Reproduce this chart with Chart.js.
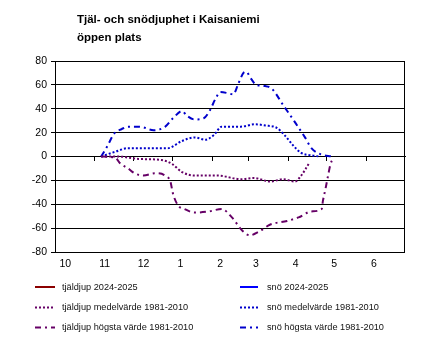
<!DOCTYPE html>
<html>
<head>
<meta charset="utf-8">
<script src="https://cdn.jsdelivr.net/npm/chart.js@4.4.1/dist/chart.umd.min.js"></script>
<style>
  html, body { margin: 0; padding: 0; background: #ffffff; }
  #wrap { width: 430px; height: 352px; }
</style>
</head>
<body>
<div id="wrap"><canvas id="c" width="430" height="352"></canvas></div>
<script>
// ---- Data (x = days since 1 October) ----
const titleLines = ["Tjäl- och snödjuphet i Kaisaniemi", "öppen plats"];
const monthLabels = ["10", "11", "12", "1", "2", "3", "4", "5", "6"];
const monthStartDays = [0, 31, 61, 92, 123, 151, 182, 212, 243];
const yTicks = [-80, -60, -40, -20, 0, 20, 40, 60, 80];

const tjalCurrentDays = [];
const tjalCurrentVals = [];
const snoCurrentDays = [];
const snoCurrentVals = [];

const tjalMedelDays = [36, 49, 65, 83, 91, 99, 109, 127, 145, 155, 168, 178, 187, 192, 198];
const tjalMedelVals = [0, 0, -2, -3, -6, -13, -16, -16, -19, -18, -21, -19, -21, -16, -6];

const snoMedelDays = [36, 47, 57, 69, 88, 99, 109, 117, 124, 130, 145, 156, 164, 173, 179, 186, 192, 200, 206];
const snoMedelVals = [0, 4, 7, 7, 7, 13, 16, 14, 18, 25, 25, 27, 26, 24, 18, 9, 3, 1, 0];

const tjalHogstaDays = [36, 47, 51, 57, 62, 69, 78, 86, 90, 92, 96, 101, 109, 120, 130, 138, 146, 152, 159, 168, 181, 190, 200, 208, 209, 211, 213, 215, 217];
const tjalHogstaVals = [0, -1, -6, -10, -14, -16, -14, -16, -21, -31, -41, -44, -47, -46, -44, -51, -62, -66, -63, -57, -54, -51, -46, -44, -37, -27, -16, -6, -2];

const snoHogstaDays = [36, 41, 46, 52, 57, 66, 77, 86, 92, 99, 103, 109, 116, 121, 125, 129, 135, 139, 143, 147, 149, 153, 157, 164, 169, 178, 187, 195, 200, 207, 216];
const snoHogstaVals = [0, 9, 19, 23, 25, 25, 22, 25, 32, 38, 34, 31, 32, 39, 48, 54, 53, 52, 61, 70, 71, 65, 60, 59, 57, 43, 29, 16, 7, 2, 0];

const seriesNames = [
  "tjäldjup 2024-2025", "snö 2024-2025",
  "tjäldjup medelvärde 1981-2010", "snö medelvärde 1981-2010",
  "tjäldjup högsta värde 1981-2010", "snö högsta värde 1981-2010"
];

function pts(xs, ys) { return xs.map((x, i) => ({ x: x, y: ys[i] })); }

const FONT = "'Liberation Sans', Arial, sans-serif";
const PURPLE = "#660066";
const BLUE = "#0000cc";
const DOTS = [2, 2];
const DASHDOT = [6, 4, 2, 4];

function ds(label, data, color, dash) {
  return {
    label: label, data: data, borderColor: color, backgroundColor: color,
    borderWidth: 2, borderDash: dash, pointRadius: 0, fill: false,
    tension: 0.4, cubicInterpolationMode: 'monotone', xAxisID: 'x', yAxisID: 'y'
  };
}

const datasets = [
  ds(seriesNames[0], pts(tjalCurrentDays, tjalCurrentVals), "#8b0000", []),
  ds(seriesNames[1], pts(snoCurrentDays, snoCurrentVals), "#0000ff", []),
  ds(seriesNames[2], pts(tjalMedelDays, tjalMedelVals), PURPLE, DOTS),
  ds(seriesNames[3], pts(snoMedelDays, snoMedelVals), BLUE, DOTS),
  ds(seriesNames[4], pts(tjalHogstaDays, tjalHogstaVals), PURPLE, DASHDOT),
  ds(seriesNames[5], pts(snoHogstaDays, snoHogstaVals), BLUE, DASHDOT)
];

const framePlugin = {
  id: 'frame',
  beforeDatasetsDraw(chart) {
    const a = chart.chartArea, ctx = chart.ctx;
    ctx.save();
    ctx.strokeStyle = '#000';
    ctx.lineWidth = 1;
    ctx.strokeRect(Math.round(a.left) + 0.5, Math.round(a.top) + 0.5,
      Math.round(a.right - a.left) - 1, Math.round(a.bottom - a.top));
    ctx.restore();
  }
};

const titlePlugin = {
  id: 'customTitle',
  afterDraw(chart) {
    const ctx = chart.ctx;
    ctx.save();
    ctx.fillStyle = '#000';
    ctx.font = "bold 11.5px " + FONT;
    ctx.textAlign = 'left';
    ctx.textBaseline = 'alphabetic';
    ctx.fillText(titleLines[0], 77, 23);
    ctx.fillText(titleLines[1], 77, 40.5);
    ctx.restore();
  }
};

const legendPlugin = {
  id: 'gridLegend',
  afterDraw(chart) {
    const ctx = chart.ctx;
    const colLine = [[35, 55], [240, 258]];
    const colText = [62, 267];
    const rowY = [287, 307.5, 327.5];
    ctx.save();
    chart.data.datasets.forEach((d, i) => {
      const col = i % 2, row = Math.floor(i / 2);
      const y = rowY[row];
      ctx.beginPath();
      ctx.strokeStyle = d.borderColor;
      ctx.lineWidth = 2;
      ctx.setLineDash(d.borderDash || []);
      ctx.moveTo(colLine[col][0], y);
      ctx.lineTo(colLine[col][1], y);
      ctx.stroke();
      ctx.setLineDash([]);
      ctx.fillStyle = '#111';
      ctx.font = "9.2px " + FONT;
      ctx.textAlign = 'left';
      ctx.textBaseline = 'middle';
      ctx.fillText(d.label, colText[col], y);
    });
    ctx.restore();
  }
};

new Chart(document.getElementById('c'), {
  type: 'line',
  data: { datasets: datasets },
  plugins: [framePlugin, titlePlugin, legendPlugin],
  options: {
    responsive: false,
    animation: false,
    devicePixelRatio: 1,
    layout: { padding: { top: 61, right: 25, bottom: 0, left: 0 } },
    plugins: { legend: { display: false }, title: { display: false }, tooltip: { enabled: false } },
    scales: {
      x: {
        type: 'linear', position: 'bottom', min: 0, max: 273,
        grid: { display: false, drawTicks: false },
        border: { display: false },
        afterBuildTicks(scale) { scale.ticks = monthStartDays.map(d => ({ value: d + 3.5 })); },
        afterFit(scale) { scale.height = 100; },
        ticks: {
          align: 'start', padding: 6, maxRotation: 0, autoSkip: false, color: '#000',
          font: { family: FONT, size: 10.5 },
          callback: (v, i) => monthLabels[i]
        }
      },
      x2: {
        type: 'linear', position: { y: 0 }, min: 0, max: 273,
        grid: { display: true, drawOnChartArea: false, drawTicks: true, tickLength: 4, color: '#000', lineWidth: 1 },
        border: { display: true, color: '#000', width: 1 },
        afterBuildTicks(scale) { scale.ticks = monthStartDays.slice(1).map(d => ({ value: d })); },
        ticks: { display: false }
      },
      y: {
        type: 'linear', position: 'left', min: -80, max: 80,
        afterBuildTicks(scale) { scale.ticks = yTicks.map(v => ({ value: v })); },
        afterFit(scale) { scale.width = 55; },
        grid: { color: '#000', lineWidth: 1, tickLength: 4, drawTicks: true },
        border: { display: true, color: '#000', width: 1 },
        ticks: { padding: 4, color: '#000', font: { family: FONT, size: 10.5 } }
      }
    }
  }
});
</script>
</body>
</html>
